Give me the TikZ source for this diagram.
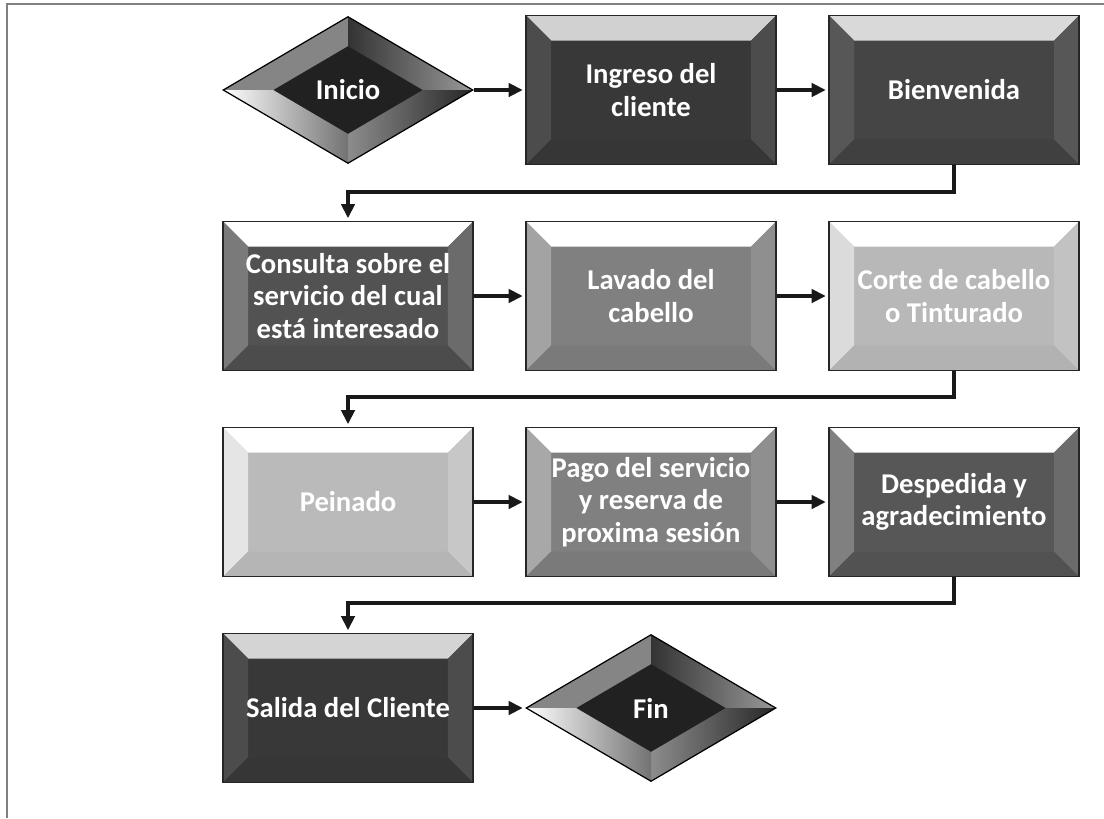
\documentclass[tikz,border=0pt]{standalone}
\usepackage{fontspec}
\setmainfont{Carlito}
\usetikzlibrary{arrows.meta,shapes.geometric,calc}

\tikzset{
  lbl/.style={text=white, font=\fontsize{16.3}{18.5}\selectfont\bfseries, align=center},
  % bevelled rectangle: face, top, left, right, bottom colours
  bevelbox/.style n args={5}{rectangle, draw=black!85, line width=0.7pt,
    minimum width=5cm, minimum height=2.98cm, inner sep=0pt, lbl, fill=#1,
    path picture={
      \path (path picture bounding box.north west) coordinate (bnw)
            (path picture bounding box.south east) coordinate (bse);
      \fill[#2] (bnw) -- (bnw -| bse) -- ++(-0.5cm,-0.5cm)
                -- ($(bnw)+(0.5cm,-0.5cm)$) -- cycle;
      \fill[#3] (bnw) -- (bnw |- bse) -- ++(0.5cm,0.5cm)
                -- ($(bnw)+(0.5cm,-0.5cm)$) -- cycle;
      \fill[#4] (bnw -| bse) -- (bse) -- ++(-0.5cm,0.5cm)
                -- ($(bnw -| bse)+(-0.5cm,-0.5cm)$) -- cycle;
      \fill[#5] (bnw |- bse) -- (bse) -- ++(-0.5cm,0.5cm)
                -- ($(bnw |- bse)+(0.5cm,0.5cm)$) -- cycle;
    }},
  % bevelled diamond for start and end
  bevelgem/.style={diamond, draw=black, line width=0.7pt,
    minimum width=5cm, minimum height=2.94cm, inner sep=0pt, lbl, fill=black!87,
    path picture={
      \path (path picture bounding box.north) coordinate (gn)
            (path picture bounding box.south) coordinate (gs)
            (path picture bounding box.east) coordinate (ge)
            (path picture bounding box.west) coordinate (gw)
            (path picture bounding box.center) coordinate (gc);
      \coordinate (hn) at ($(gc)!0.6!(gn)$);
      \coordinate (hs) at ($(gc)!0.6!(gs)$);
      \coordinate (he) at ($(gc)!0.6!(ge)$);
      \coordinate (hw) at ($(gc)!0.6!(gw)$);
      \fill[black!48] (gw) -- (gn) -- (hn) -- (hw) -- cycle;
      \shade[left color=black!80, right color=black!40] (gn) -- (ge) -- (he) -- (hn) -- cycle;
      \shade[left color=black!45, right color=black!85] (ge) -- (gs) -- (hs) -- (he) -- cycle;
      \shade[left color=white, middle color=white, right color=black!55] (gs) -- (gw) -- (hw) -- (hs) -- cycle;
    }},
  arr/.style={-{Triangle[length=8pt,width=7.5pt]}, line width=2.1pt, shorten >=1.5pt, black!90},
}

\begin{document}
\begin{tikzpicture}[x=0.02cm,y=-0.02cm]
  \useasboundingbox (0,0) rectangle (1104,818);
  % page frame
  \draw[black!50, line width=0.9pt] (7,818) -- (7,4) -- (1104,4);

  % row 1
  \node[bevelgem] (inicio) at (348,90) {Inicio};
  \node[bevelbox={black!78}{black!18}{black!70}{black!70}{black!79}] (ingreso) at (651,90) {Ingreso del\\cliente};
  \node[bevelbox={black!73}{black!15}{black!66}{black!66}{black!75}] (bienv) at (954,90) {Bienvenida};

  % row 2
  \node[bevelbox={black!68}{white}{black!52}{black!58}{black!70}] (consulta) at (348,296) {Consulta sobre el\\servicio del cual\\está interesado};
  \node[bevelbox={black!50}{white}{black!36}{black!44}{black!52}] (lavado) at (651,296) {Lavado del\\cabello};
  \node[bevelbox={black!28}{white}{black!14}{black!24}{black!30}] (corte) at (954,296) {Corte de cabello\\o Tinturado};

  % row 3
  \node[bevelbox={black!27}{white}{black!10}{black!22}{black!29}] (peinado) at (348,502) {Peinado};
  \node[bevelbox={black!50}{white}{black!34}{black!44}{black!52}] (pago) at (651,502) {Pago del servicio\\y reserva de\\proxima sesión};
  \node[bevelbox={black!66}{white}{black!50}{black!58}{black!68}] (despedida) at (954,502) {Despedida y\\agradecimiento};

  % row 4
  \node[bevelbox={black!78}{black!17}{black!70}{black!70}{black!79}] (salida) at (348,708) {Salida del Cliente};
  \node[bevelgem] (fin) at (651,708) {Fin};

  % connectors
  \draw[arr] (inicio.east) -- (ingreso.west);
  \draw[arr] (ingreso.east) -- (bienv.west);
  \draw[arr] (bienv.south) -- ++(0,27) -| (consulta.north);
  \draw[arr] (consulta.east) -- (lavado.west);
  \draw[arr] (lavado.east) -- (corte.west);
  \draw[arr] (corte.south) -- ++(0,26) -| (peinado.north);
  \draw[arr] (peinado.east) -- (pago.west);
  \draw[arr] (pago.east) -- (despedida.west);
  \draw[arr] (despedida.south) -- ++(0,26) -| (salida.north);
  \draw[arr] (salida.east) -- (fin.west);
\end{tikzpicture}
\end{document}
